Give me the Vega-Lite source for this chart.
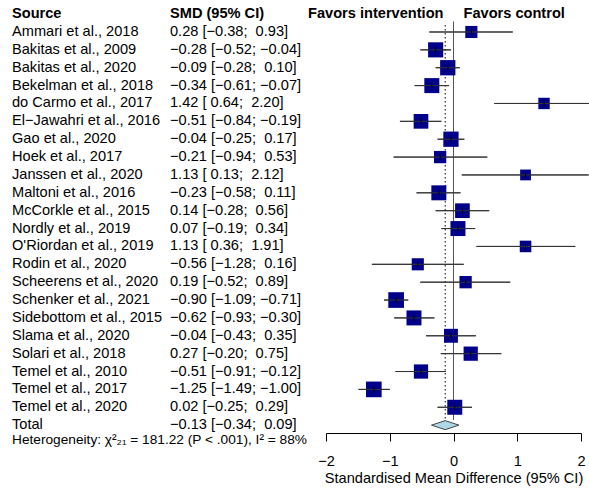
{
  "$schema": "https://vega.github.io/schema/vega-lite/v6.json",
  "background": "white",
  "padding": {"left": 0, "top": 5, "right": 0, "bottom": 0},
  "bounds": "flush",
  "spacing": 10,
  "config": {"view": {"stroke": null}, "font": "Liberation Sans"},
  "datasets": {
    "studies": [
      {"i": 1, "source": "Ammari et al., 2018", "ci": "0.28 [−0.38; \u00a00.93]", "smd": 0.28, "lo": -0.38, "hi": 0.93, "weight": 3.4, "kind": "study"},
      {"i": 2, "source": "Bakitas et al., 2009", "ci": "−0.28 [−0.52; −0.04]", "smd": -0.28, "lo": -0.52, "hi": -0.04, "weight": 5.3, "kind": "study"},
      {"i": 3, "source": "Bakitas et al., 2020", "ci": "−0.09 [−0.28; \u00a00.10]", "smd": -0.09, "lo": -0.28, "hi": 0.10, "weight": 5.4, "kind": "study"},
      {"i": 4, "source": "Bekelman et al., 2018", "ci": "−0.34 [−0.61; −0.07]", "smd": -0.34, "lo": -0.61, "hi": -0.07, "weight": 5.2, "kind": "study"},
      {"i": 5, "source": "do Carmo et al., 2017", "ci": "1.42 [\u00a00.64; \u00a02.20]", "smd": 1.42, "lo": 0.64, "hi": 2.20, "weight": 3.0, "kind": "study"},
      {"i": 6, "source": "El−Jawahri et al., 2016", "ci": "−0.51 [−0.84; −0.19]", "smd": -0.51, "lo": -0.84, "hi": -0.19, "weight": 5.0, "kind": "study"},
      {"i": 7, "source": "Gao et al., 2020", "ci": "−0.04 [−0.25; \u00a00.17]", "smd": -0.04, "lo": -0.25, "hi": 0.17, "weight": 5.4, "kind": "study"},
      {"i": 8, "source": "Hoek et al., 2017", "ci": "−0.21 [−0.94; \u00a00.53]", "smd": -0.21, "lo": -0.94, "hi": 0.53, "weight": 3.5, "kind": "study"},
      {"i": 9, "source": "Janssen et al., 2020", "ci": "1.13 [\u00a00.13; \u00a02.12]", "smd": 1.13, "lo": 0.13, "hi": 2.12, "weight": 2.7, "kind": "study"},
      {"i": 10, "source": "Maltoni et al., 2016", "ci": "−0.23 [−0.58; \u00a00.11]", "smd": -0.23, "lo": -0.58, "hi": 0.11, "weight": 5.2, "kind": "study"},
      {"i": 11, "source": "McCorkle et al., 2015", "ci": "0.14 [−0.28; \u00a00.56]", "smd": 0.14, "lo": -0.28, "hi": 0.56, "weight": 5.0, "kind": "study"},
      {"i": 12, "source": "Nordly et al., 2019", "ci": "0.07 [−0.19; \u00a00.34]", "smd": 0.07, "lo": -0.19, "hi": 0.34, "weight": 5.2, "kind": "study"},
      {"i": 13, "source": "O'Riordan et al., 2019", "ci": "1.13 [\u00a00.36; \u00a01.91]", "smd": 1.13, "lo": 0.36, "hi": 1.91, "weight": 3.1, "kind": "study"},
      {"i": 14, "source": "Rodin et al., 2020", "ci": "−0.56 [−1.28; \u00a00.16]", "smd": -0.56, "lo": -1.28, "hi": 0.16, "weight": 3.4, "kind": "study"},
      {"i": 15, "source": "Scheerens et al., 2020", "ci": "0.19 [−0.52; \u00a00.89]", "smd": 0.19, "lo": -0.52, "hi": 0.89, "weight": 3.5, "kind": "study"},
      {"i": 16, "source": "Schenker et al., 2021", "ci": "−0.90 [−1.09; −0.71]", "smd": -0.90, "lo": -1.09, "hi": -0.71, "weight": 5.7, "kind": "study"},
      {"i": 17, "source": "Sidebottom et al., 2015", "ci": "−0.62 [−0.93; −0.30]", "smd": -0.62, "lo": -0.93, "hi": -0.30, "weight": 5.2, "kind": "study"},
      {"i": 18, "source": "Slama et al., 2020", "ci": "−0.04 [−0.43; \u00a00.35]", "smd": -0.04, "lo": -0.43, "hi": 0.35, "weight": 4.5, "kind": "study"},
      {"i": 19, "source": "Solari et al., 2018", "ci": "0.27 [−0.20; \u00a00.75]", "smd": 0.27, "lo": -0.20, "hi": 0.75, "weight": 4.7, "kind": "study"},
      {"i": 20, "source": "Temel et al., 2010", "ci": "−0.51 [−0.91; −0.12]", "smd": -0.51, "lo": -0.91, "hi": -0.12, "weight": 4.7, "kind": "study"},
      {"i": 21, "source": "Temel et al., 2017", "ci": "−1.25 [−1.49; −1.00]", "smd": -1.25, "lo": -1.49, "hi": -1.00, "weight": 5.7, "kind": "study"},
      {"i": 22, "source": "Temel et al., 2020", "ci": "0.02 [−0.25; \u00a00.29]", "smd": 0.02, "lo": -0.25, "hi": 0.29, "weight": 5.2, "kind": "study"},
      {"i": 23, "source": "Total", "ci": "−0.13 [−0.34; \u00a00.09]", "smd": -0.13, "lo": -0.34, "hi": 0.09, "weight": 100, "kind": "total"}
    ]
  },
  "hconcat": [
    {
      "width": 316,
      "height": 428,
      "layer": [
        {
          "data": {"values": [{"col": "source", "label": "Source"}, {"col": "ci", "label": "SMD (95% CI)"}]},
          "mark": {"type": "text", "align": "left", "baseline": "middle", "fontWeight": "bold", "fontSize": 14.6, "dx": 12, "color": "black"},
          "encoding": {
            "x": {"field": "col", "type": "nominal", "bandPosition": 0, "scale": {"type": "band", "domain": ["source", "ci"], "paddingInner": 0, "paddingOuter": 0}, "axis": null},
            "y": {"datum": 0, "type": "quantitative", "scale": {"domain": [-0.51, 23.44], "reverse": true, "nice": false, "zero": false}, "axis": null},
            "text": {"field": "label"}
          }
        },
        {
          "data": {"name": "studies"},
          "transform": [{"fold": ["source", "ci"], "as": ["col", "label"]}],
          "mark": {"type": "text", "align": "left", "baseline": "middle", "fontSize": 14.6, "dx": 12, "color": "black"},
          "encoding": {
            "x": {"field": "col", "type": "nominal", "bandPosition": 0},
            "y": {"field": "i", "type": "quantitative"},
            "text": {"field": "label"}
          }
        },
        {
          "data": {"values": [{"col": "source", "label": "Heterogeneity: χ²₂₁ = 181.22 (P < .001), I² = 88%"}]},
          "mark": {"type": "text", "align": "left", "baseline": "middle", "fontSize": 13.7, "dx": 12, "color": "black"},
          "encoding": {
            "x": {"field": "col", "type": "nominal", "bandPosition": 0},
            "y": {"datum": 23.85, "type": "quantitative"},
            "text": {"field": "label"}
          }
        }
      ]
    },
    {
      "width": 255,
      "height": 428,
      "data": {"name": "studies"},
      "layer": [
        {
          "transform": [{"filter": "datum.kind == 'study'"}],
          "mark": {"type": "rule", "color": "#333333", "strokeWidth": 1},
          "encoding": {
            "x": {"field": "lo", "type": "quantitative", "scale": {"domain": [-2, 2], "nice": false, "zero": false},
              "title": "Standardised Mean Difference (95% CI)",
              "axis": {"values": [-2, -1, 0, 1, 2], "format": "d", "grid": false, "domainColor": "black", "tickColor": "black", "tickSize": 8, "labelFontSize": 14.6, "labelColor": "black", "labelPadding": 12, "labelFont": "Liberation Sans", "titleFont": "Liberation Sans", "titleFontSize": 14.6, "titleFontWeight": "normal", "titleColor": "black", "titlePadding": 3, "labelFlush": false}},
            "x2": {"field": "hi"},
            "y": {"field": "i", "type": "quantitative", "scale": {"domain": [-0.51, 23.44], "reverse": true, "nice": false, "zero": false}, "axis": null}
          }
        },
        {
          "mark": {"type": "rule", "color": "#555555", "strokeWidth": 1},
          "encoding": {
            "x": {"datum": 0, "type": "quantitative"},
            "y": {"datum": 0.44, "type": "quantitative"},
            "y2": {"datum": 22.71}
          }
        },
        {
          "transform": [{"filter": "datum.kind == 'total'"}],
          "mark": {"type": "rule", "color": "black", "strokeWidth": 1, "strokeDash": [1.5, 2.5]},
          "encoding": {
            "x": {"field": "smd", "type": "quantitative"},
            "y": {"datum": 0.61, "type": "quantitative"},
            "y2": {"datum": 22.85}
          }
        },
        {
          "transform": [{"filter": "datum.kind == 'study'"}],
          "mark": {"type": "point", "shape": "square", "filled": true, "color": "#00008b", "opacity": 1},
          "encoding": {
            "x": {"field": "smd", "type": "quantitative"},
            "y": {"field": "i", "type": "quantitative"},
            "size": {"field": "weight", "type": "quantitative", "scale": {"domain": [0, 6], "range": [0, 259]}, "legend": null}
          }
        },
        {
          "transform": [{"filter": "datum.kind == 'study'"}],
          "mark": {"type": "rule", "color": "#333333", "strokeWidth": 1},
          "encoding": {
            "x": {"field": "lo", "type": "quantitative"},
            "x2": {"field": "hi"},
            "y": {"field": "i", "type": "quantitative"}
          }
        },
        {
          "transform": [{"filter": "datum.kind == 'study'"}],
          "mark": {"type": "tick", "orient": "vertical", "size": 6, "thickness": 1, "color": "black", "opacity": 1},
          "encoding": {
            "x": {"field": "smd", "type": "quantitative"},
            "y": {"field": "i", "type": "quantitative"}
          }
        },
        {
          "transform": [{"filter": "datum.kind == 'total'"}],
          "mark": {"type": "point", "shape": "M-1,0L0,-0.33L1,0L0,0.33Z", "filled": true, "fill": "#add8e6", "stroke": "#444444", "strokeWidth": 1, "size": 751, "opacity": 1},
          "encoding": {
            "x": {"field": "smd", "type": "quantitative"},
            "y": {"field": "i", "type": "quantitative"}
          }
        },
        {
          "data": {"values": [{"label": "Favors intervention"}]},
          "mark": {"type": "text", "align": "right", "baseline": "middle", "fontWeight": "bold", "fontSize": 14.6, "dx": -10, "color": "black"},
          "encoding": {
            "x": {"datum": 0, "type": "quantitative"},
            "y": {"datum": 0, "type": "quantitative"},
            "text": {"field": "label"}
          }
        },
        {
          "data": {"values": [{"label": "Favors control"}]},
          "mark": {"type": "text", "align": "left", "baseline": "middle", "fontWeight": "bold", "fontSize": 14.6, "dx": 10, "color": "black"},
          "encoding": {
            "x": {"datum": 0, "type": "quantitative"},
            "y": {"datum": 0, "type": "quantitative"},
            "text": {"field": "label"}
          }
        }
      ]
    }
  ]
}
